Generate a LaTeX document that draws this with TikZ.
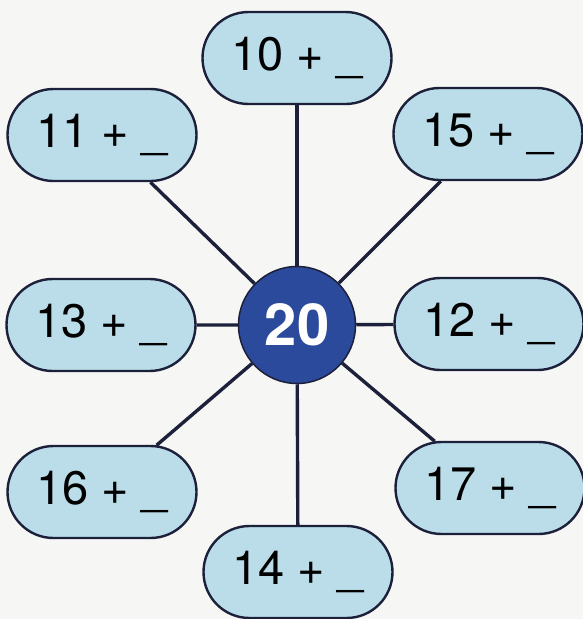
\documentclass[tikz,border=0pt]{standalone}
\usepackage{fontspec}
\setmainfont{TeX Gyre Heros}
\usepackage{xcolor}
\usepackage{tikz}
\usetikzlibrary{shapes.misc,positioning}

\definecolor{boxblue}{RGB}{186,221,233}
\definecolor{inkline}{RGB}{28,32,58}
\definecolor{hubblue}{RGB}{44,74,156}
\definecolor{paper}{RGB}{246,246,244}

\begin{document}
\begin{tikzpicture}[
  x=1pt, y=-1pt,                     % pixel-like units, y downwards
  every node/.style={inner sep=0pt},
  sumbox/.style={rounded rectangle, draw=inkline, line width=2.4pt, fill=boxblue,
    minimum width=189pt, minimum height=92pt, font=\fontsize{47}{50}\selectfont},
  hub/.style={circle, draw=inkline, line width=1.5pt, fill=hubblue, text=white,
    minimum size=117pt, font=\fontsize{58}{60}\selectfont\bfseries},
  spoke/.style={draw=inkline, line width=3.4pt}
]
\fill[paper] (0,0) rectangle (583,619);
\useasboundingbox (0,0) rectangle (583,619);

\node[hub] (c) at (297,325) {20};

\node[sumbox] (b10) at (297,58)  {10 + \_};
\node[sumbox] (b11) at (102,135) {11 + \_};
\node[sumbox] (b15) at (488,134) {15 + \_};
\node[sumbox] (b13) at (101,325) {13 + \_};
\node[sumbox] (b12) at (489,324) {12 + \_};
\node[sumbox] (b16) at (102,492) {16 + \_};
\node[sumbox] (b17) at (490,488) {17 + \_};
\node[sumbox] (b14) at (298,572) {14 + \_};

% spokes from the hub
\foreach \b in {b10,b11,b15,b13,b12,b16,b17,b14}
  \draw[spoke] (c) -- (\b);
\end{tikzpicture}
\end{document}
